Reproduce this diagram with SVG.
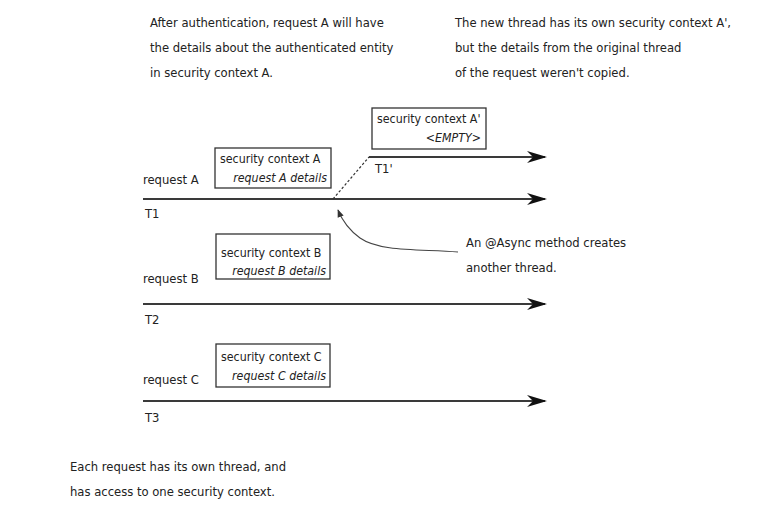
<svg xmlns="http://www.w3.org/2000/svg" width="783" height="509" viewBox="0 0 783 509">
<defs>
<style>
text{font-family:"DejaVu Sans Condensed","Liberation Sans",sans-serif;font-size:12.9px;fill:#222}
.it{font-style:italic}
.bx{font-size:12.3px}
.box{fill:#fff;stroke:#333;stroke-width:1.3}
.thr{stroke:#3a3a3a;stroke-width:2.2;fill:none}
</style>
<marker id="ah" viewBox="0 0 20 12" refX="18" refY="6" markerWidth="20" markerHeight="12" markerUnits="userSpaceOnUse" orient="auto">
<path d="M0,0 L20,6 L0,12 L6,6 Z" fill="#111"/>
</marker>
<marker id="sa" viewBox="0 0 10 8" refX="9" refY="4" markerWidth="8" markerHeight="7" markerUnits="userSpaceOnUse" orient="auto">
<path d="M0,0 L10,4 L0,8 Z" fill="#333"/>
</marker>
</defs>
<rect width="783" height="509" fill="#fff"/>
<g id="note-top-left">
<text x="150" y="27">After authentication, request A will have</text>
<text x="150" y="52">the details about the authenticated entity</text>
<text x="150" y="77">in security context A.</text>
</g>
<g id="note-top-right">
<text x="455" y="27">The new thread has its own security context A',</text>
<text x="455" y="52">but the details from the original thread</text>
<text x="455" y="77">of the request weren't copied.</text>
</g>
<g id="connectors">
<line class="thr" x1="143" y1="199" x2="545" y2="199" marker-end="url(#ah)"/>
<line class="thr" x1="369" y1="157" x2="545" y2="157" marker-end="url(#ah)"/>
<line x1="333" y1="199" x2="369" y2="157" stroke="#333" stroke-width="1.2" stroke-dasharray="2.5,2"/>
<line class="thr" x1="143" y1="304" x2="545" y2="304" marker-end="url(#ah)"/>
<line class="thr" x1="143" y1="401" x2="545" y2="401" marker-end="url(#ah)"/>
<path d="M458,252 C420,249 380,252 360,238 C349,230 342,220 338,210" fill="none" stroke="#444" stroke-width="1.1" marker-end="url(#sa)"/>
</g>
<g id="thread-A">
<text x="143" y="184">request A</text>
<text x="145" y="218">T1</text>
</g>
<g id="context-A">
<rect class="box" x="215" y="148" width="116" height="40"/>
<text class="bx" x="220" y="163">security context A</text>
<text class="bx it" x="327" y="182" text-anchor="end">request A details</text>
</g>
<g id="thread-A1">
<text x="375" y="173">T1'</text>
</g>
<g id="context-A1">
<rect class="box" x="372" y="108" width="114" height="41"/>
<text class="bx" x="377" y="123">security context A'</text>
<text class="bx it" x="481" y="142" text-anchor="end">&lt;EMPTY&gt;</text>
</g>
<g id="note-async">
<text x="466" y="247">An @Async method creates</text>
<text x="466" y="272">another thread.</text>
</g>
<g id="thread-B">
<text x="143" y="283">request B</text>
<text x="145" y="324">T2</text>
</g>
<g id="context-B">
<rect class="box" x="216" y="234" width="114" height="45"/>
<text class="bx" x="221" y="257">security context B</text>
<text class="bx it" x="326" y="275" text-anchor="end">request B details</text>
</g>
<g id="thread-C">
<text x="143" y="384">request C</text>
<text x="145" y="422">T3</text>
</g>
<g id="context-C">
<rect class="box" x="216" y="344" width="114" height="43"/>
<text class="bx" x="221" y="361">security context C</text>
<text class="bx it" x="326" y="380" text-anchor="end">request C details</text>
</g>
<g id="note-bottom">
<text x="70" y="471">Each request has its own thread, and</text>
<text x="70" y="496">has access to one security context.</text>
</g>
</svg>
